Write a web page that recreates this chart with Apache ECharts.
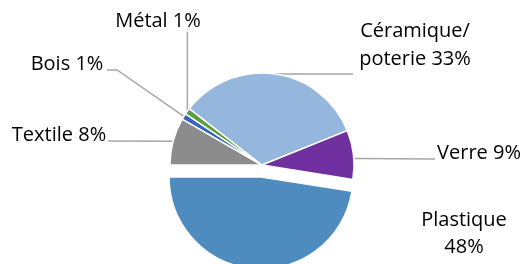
<!DOCTYPE html>
<html><head><meta charset="utf-8">
<script src="https://cdn.jsdelivr.net/npm/echarts@6/dist/echarts.min.js"></script>
<style>html,body{margin:0;padding:0;background:#fff}#c{width:527px;height:264px}</style>
</head><body><div id="c"></div>
<script>
// Data (clockwise from 9 o'clock)
const categories = ['Textile', 'Bois', 'Métal', 'Céramique/poterie', 'Verre', 'Plastique'];
const values = [8.3, 1.1, 1.1, 33.4, 8.6, 47.5];
const colors = ['#8c8c8c', '#3565c0', '#5a9e3a', '#95b7de', '#7030a0', '#4e8bbf'];

// Label placement (layout only)
const labelPlace = [
  { x: 59,  y: 135, line: s => [s, [108, 141]] },
  { x: 67,  y: 64,  line: s => [s, [117, 70], [107, 70]] },
  { x: 158, y: 21,  line: s => [s, [s[0], 32]] },
  { x: 415, y: 45,  line: s => [s, [353, s[1]]] },
  { x: 479, y: 153, line: s => [[s[0] + 1, s[1] + 4], [435, 159]] },
  { x: 464, y: 234, line: null }
];
const EXPLODED = 5;

const total = values.reduce((a, b) => a + b, 0);
const labelText = i => {
  const name = categories[i].replace('/', '/\n');
  const sep = i === EXPLODED ? '\n' : ' ';
  return name + sep + Math.round(values[i] / total * 100) + '%';
};

const chart = echarts.init(document.getElementById('c'), null, { renderer: 'canvas' });
chart.setOption({
  animation: false,
  graphic: [{
    type: 'text',
    x: labelPlace[EXPLODED].x,
    y: labelPlace[EXPLODED].y,
    style: {
      text: labelText(EXPLODED),
      fontFamily: 'Open Sans',
      fontSize: 20,
      lineHeight: 27,
      fill: '#000',
      align: 'center',
      verticalAlign: 'middle'
    }
  }],
  series: [{
    type: 'pie',
    center: [262, 165],
    radius: 92,
    startAngle: 180,
    clockwise: true,
    avoidLabelOverlap: false,
    selectedMode: 'single',
    selectedOffset: 12,
    emphasis: { disabled: true },
    itemStyle: { borderColor: '#fff', borderWidth: 1.5 },
    label: {
      show: true,
      position: 'outside',
      fontFamily: 'Open Sans',
      fontSize: 20,
      lineHeight: 28,
      color: '#000',
      formatter: p => labelText(p.dataIndex)
    },
    labelLine: { show: true, lineStyle: { color: '#a6a6a6', width: 1.5 } },
    labelLayout: params => {
      const cfg = labelPlace[params.dataIndex];
      const out = { x: cfg.x, y: cfg.y, align: 'center', verticalAlign: 'middle' };
      if (cfg.line && params.labelLinePoints) {
        out.labelLinePoints = cfg.line(params.labelLinePoints[0]);
      }
      return out;
    },
    data: categories.map((c, i) => ({
      name: c,
      value: values[i],
      selected: i === EXPLODED,
      itemStyle: { color: colors[i] },
      labelLine: { show: i !== EXPLODED },
      label: { show: i !== EXPLODED }
    }))
  }]
});
</script>
</body></html>
